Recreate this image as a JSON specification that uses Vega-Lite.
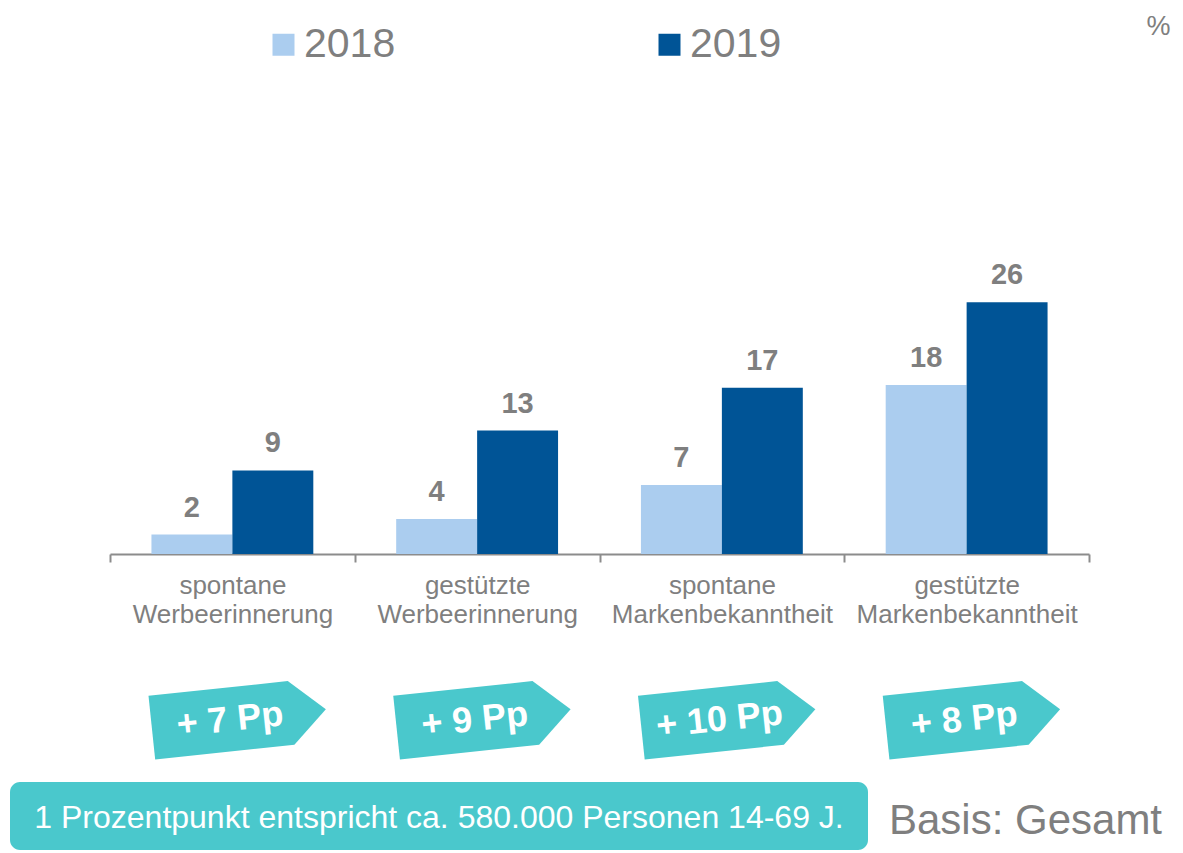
{
  "$schema": "https://vega.github.io/schema/vega-lite/v6.json",
  "padding": {"left": 10, "top": 0, "right": 0, "bottom": 0},
  "config": {"view": {"stroke": null}, "font": "Liberation Sans"},
  "spacing": 5,
  "vconcat": [
    {
      "width": 1173,
      "height": 554,
      "data": {
        "values": [
          {"category": "spontane Werbeerinnerung", "year": "2018", "value": 2.0, "label": "2"},
          {"category": "spontane Werbeerinnerung", "year": "2019", "value": 8.6, "label": "9"},
          {"category": "gestützte Werbeerinnerung", "year": "2018", "value": 3.6, "label": "4"},
          {"category": "gestützte Werbeerinnerung", "year": "2019", "value": 12.7, "label": "13"},
          {"category": "spontane Markenbekanntheit", "year": "2018", "value": 7.1, "label": "7"},
          {"category": "spontane Markenbekanntheit", "year": "2019", "value": 17.1, "label": "17"},
          {"category": "gestützte Markenbekanntheit", "year": "2018", "value": 17.4, "label": "18"},
          {"category": "gestützte Markenbekanntheit", "year": "2019", "value": 25.9, "label": "26"}
        ]
      },
      "encoding": {
        "x": {
          "field": "category", "type": "nominal", "sort": null,
          "scale": {"range": [100, 1079], "paddingInner": 0, "paddingOuter": 0},
          "axis": {
            "title": null, "labelAngle": 0, "labelExpr": "split(datum.label, ' ')",
            "tickBand": "extent", "tickSize": 8, "tickWidth": 2, "tickColor": "#8C8C8C",
            "domainColor": "#8C8C8C", "domainWidth": 2,
            "labelFontSize": 26, "labelColor": "#7F7F7F", "labelPadding": 10,
            "labelLineHeight": 29, "labelFont": "Liberation Sans", "labelLimit": 400,
            "labelOverlap": false, "grid": false
          }
        },
        "xOffset": {"field": "year", "type": "nominal", "scale": {"paddingInner": 0, "paddingOuter": 0.512}},
        "y": {
          "field": "value", "type": "quantitative",
          "scale": {"domain": [0, 57], "nice": false},
          "axis": {
            "orient": "right", "title": "%", "titleAngle": 0, "titleX": -25, "titleY": 26,
            "titleBaseline": "middle", "titleAlign": "center", "titleFontSize": 27,
            "titleFontWeight": "normal", "titleColor": "#7F7F7F", "titleFont": "Liberation Sans",
            "labels": false, "ticks": false, "domain": false, "grid": false
          }
        }
      },
      "layer": [
        {
          "mark": {"type": "bar"},
          "encoding": {
            "color": {
              "field": "year", "type": "nominal",
              "scale": {"domain": ["2018", "2019"], "range": ["#ABCDEF", "#005496"]},
              "legend": {
                "title": null, "orient": "none", "legendX": 253, "legendY": 24,
                "direction": "horizontal", "columns": 2, "columnPadding": 253,
                "labelFontSize": 41, "labelColor": "#7F7F7F", "labelFont": "Liberation Sans",
                "symbolType": "square", "symbolSize": 484, "symbolStrokeWidth": 0,
                "labelOffset": 0
              }
            }
          }
        },
        {
          "mark": {"type": "text", "dy": -18, "baseline": "alphabetic", "fontSize": 29, "fontWeight": "bold", "fill": "#7F7F7F"},
          "encoding": {"text": {"field": "label"}}
        }
      ]
    },
    {
      "width": 1173,
      "height": 145,
      "data": {
        "values": [
          {"category": "spontane Werbeerinnerung", "badge": "+ 7 Pp"},
          {"category": "gestützte Werbeerinnerung", "badge": "+ 9 Pp"},
          {"category": "spontane Markenbekanntheit", "badge": "+ 10 Pp"},
          {"category": "gestützte Markenbekanntheit", "badge": "+ 8 Pp"}
        ]
      },
      "encoding": {
        "x": {
          "field": "category", "type": "nominal", "sort": null,
          "scale": {"range": [100, 1079], "paddingInner": 0, "paddingOuter": 0},
          "axis": null
        }
      },
      "layer": [
        {
          "mark": {
            "type": "point",
            "shape": "M -0.943 -0.2 L 0.657 -0.2 L 1.057 0.166 L 0.657 0.532 L -0.943 0.532 Z",
            "size": 30625, "angle": -6, "filled": true, "fill": "#4AC8CC", "opacity": 1, "strokeWidth": 0
          }
        },
        {
          "mark": {"type": "text", "angle": -6, "fontSize": 36, "fontWeight": "bold", "fill": "white", "dy": 15, "dx": -4},
          "encoding": {"text": {"field": "badge"}}
        }
      ]
    },
    {
      "spacing": 0,
      "hconcat": [
        {
          "width": 858,
          "height": 68,
          "data": {"values": [{"note": "1 Prozentpunkt entspricht ca. 580.000 Personen 14-69 J."}]},
          "layer": [
            {"mark": {"type": "rect", "fill": "#4AC8CC", "cornerRadius": 10}, "encoding": {}},
            {"mark": {"type": "text", "fontSize": 32, "fill": "white", "dy": 2}, "encoding": {"text": {"field": "note"}}}
          ]
        },
        {
          "width": 315,
          "height": 68,
          "data": {"values": [{"basis": "Basis: Gesamt"}]},
          "mark": {"type": "text", "fontSize": 42, "fill": "#7F7F7F", "dy": 5},
          "encoding": {"text": {"field": "basis"}}
        }
      ]
    }
  ]
}
